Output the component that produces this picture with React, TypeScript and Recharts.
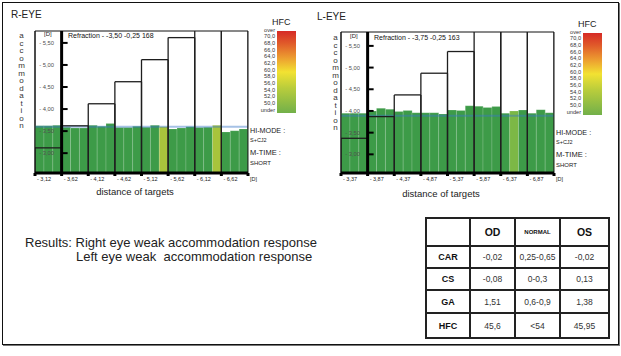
import React from 'react';
import { ComposedChart, Bar, Cell, XAxis, YAxis, ReferenceArea, ReferenceLine } from 'recharts';

// target distances [D], one per column
const rTargets = [-3.12, -3.62, -4.12, -4.62, -5.12, -5.62, -6.12, -6.62];
const lTargets = [-3.37, -3.87, -4.37, -4.87, -5.37, -5.87, -6.37, -6.87];

// measured accommodation, three readings per target
const rAccommodation = [
  -3.62, -3.62, -3.63,
  -3.59, -3.57, -3.57,
  -3.63, -3.61, -3.67,
  -3.58, -3.58, -3.61,
  -3.59, -3.63, -3.6,
  -3.55, -3.57, -3.6,
  -3.58, -3.59, -3.63,
  -3.48, -3.51, -3.55,
];
const lAccommodation = [
  -3.95, -3.95, -3.95,
  -4.0, -4.06, -4.04,
  -3.99, -4.01, -3.96,
  -3.96, -3.96, -3.93,
  -4.02, -4.01, -4.12,
  -4.11, -4.08, -4.1,
  -3.95, -4.0, -4.02,
  -3.95, -4.03, -3.96,
];

// HFC per reading (colours the bars)
const rHfc = [46, 46, 46, 46, 46, 46, 47, 46, 47, 46, 46, 46, 46, 47, 56, 46, 46, 46, 46, 47, 56, 46, 46, 46];
const lHfc = [46, 46, 46, 46, 46, 46, 46, 46, 46, 46, 46, 46, 46, 46, 46, 46, 46, 46, 46, 53, 46, 46, 46, 46];

const rBaseline = -3.6;
const lBaseline = -3.89;

const yTicks = [-5.5, -5.0, -4.5, -4.0, -3.5, -3.0];
const colTicks = [0, 1, 2, 3, 4, 5, 6, 7, 8];
const hfcLabels = ['over', '70,0', '68,0', '66,0', '64,0', '62,0', '60,0', '58,0', '56,0', '54,0', '52,0', '50,0', 'under'];

const tableHead = ['', 'OD', 'NORMAL', 'OS'];
const tableRows = ['CAR', 'CS', 'GA', 'HFC'];
const odValues = ['-0,02', '-0,08', '1,51', '45,6'];
const normalValues = ['0,25-0,65', '0-0,3', '0,6-0,9', '<54'];
const osValues = ['-0,02', '0,13', '1,38', '45,95'];

const FONT = '"Liberation Sans", Arial, sans-serif';
const PLOT_W = 213;
const COL_W = PLOT_W / 8;
const READINGS = 3;

const fmt = (v: number) => '- ' + Math.abs(v).toFixed(2).replace('.', ',');

const hfcColor = (h: number) => (h >= 54 ? '#a8c43c' : h >= 51 ? '#7cb846' : '#3d9b48');

interface PanelProps {
  dx: number;
  dy: number;
  plotTop: number;
  eye: string;
  targets: number[];
  acc: number[];
  hfc: number[];
  baseline: number;
  refraction: string;
  domain: [number, number];
  lettersX: number;
}

function Panel({ dx, dy, plotTop, eye, targets, acc, hfc, baseline, refraction, domain, lettersX }: PanelProps) {
  // col = position of the reading in column units (column c covers c..c+1)
  const data = acc.map((v, i) => ({
    k: i,
    col: Math.floor(i / READINGS) + ((i % READINGS) + 0.5) / READINGS,
    acc: v,
    hfc: hfc[i],
  }));
  const [yTop, yBottom] = domain;

  // outline of each target box: left, right and top edge
  const boxEdges = targets.flatMap((t, c) => [
    [{ x: c, y: yBottom }, { x: c, y: t }],
    [{ x: c + 1, y: yBottom }, { x: c + 1, y: t }],
    [{ x: c, y: t }, { x: c + 1, y: t }],
  ]);

  const yTick = (p: any) => (
    <g>
      <text x={p.x + 19} y={p.y + 2} fontSize={5.8} fill="#505050" textAnchor="end" fontFamily={FONT}>
        {fmt(p.payload.value)}
      </text>
      <line x1={p.x + COL_W} x2={p.x + COL_W + 6} y1={p.y} y2={p.y} stroke="#000" strokeWidth={2} />
    </g>
  );

  const xTick = (p: any) => {
    const i = p.payload.value;
    const label = i < targets.length ? fmt(targets[i]) : '[D]';
    return (
      <text x={p.x + 2} y={p.y + 3} fontSize={5.5} fill="#222" fontFamily={FONT}>
        {label}
      </text>
    );
  };

  const abs = (l: number, t: number, extra: React.CSSProperties = {}): React.CSSProperties => ({
    position: 'absolute',
    left: dx + l,
    top: t + dy,
    whiteSpace: 'nowrap',
    lineHeight: 1,
    ...extra,
  });

  return (
    <>
      <div style={{ position: 'absolute', left: dx, top: 0 }}>
        <ComposedChart
          width={260}
          height={190}
          data={data}
          margin={{ top: plotTop, right: 12, bottom: 5, left: 34 }}
          barCategoryGap={0}
          barGap={0}
        >
          <XAxis xAxisId="sub" dataKey="k" type="category" hide />
          <XAxis
            xAxisId="col"
            dataKey="col"
            type="number"
            domain={[0, 8]}
            ticks={colTicks}
            interval={0}
            allowDataOverflow
            height={12}
            axisLine={{ stroke: '#000', strokeWidth: 3 }}
            tickLine={{ stroke: '#000', strokeWidth: 3 }}
            tickSize={3}
            tick={xTick}
          />
          <YAxis
            type="number"
            domain={[yTop, yBottom]}
            reversed
            allowDataOverflow
            ticks={yTicks}
            interval={0}
            width={1}
            axisLine={false}
            tickLine={false}
            tickSize={0}
            tickMargin={0}
            tick={yTick}
          />
          <ReferenceArea xAxisId="col" x1={0} x2={8} y1={yBottom} y2={yTop} fill="none" fillOpacity={0} stroke="#111" strokeWidth={1} />
          <Bar xAxisId="sub" dataKey="acc" isAnimationActive={false} stroke="rgba(255,255,255,0.22)" strokeWidth={0.8}>
            {data.map((d) => (
              <Cell key={d.k} fill={hfcColor(d.hfc)} />
            ))}
          </Bar>
          <ReferenceLine xAxisId="col" y={baseline} stroke="#3a78c8" strokeOpacity={0.45} strokeWidth={2} />
          {boxEdges.map((seg, i) => (
            <ReferenceLine key={i} xAxisId="col" segment={seg} stroke="#1e1e1e" strokeWidth={1.3} ifOverflow="hidden" />
          ))}
          <ReferenceLine xAxisId="col" segment={[{ x: 0, y: yBottom }, { x: 0, y: yTop }]} stroke="#111" strokeWidth={1} />
          <ReferenceLine xAxisId="col" x={1} stroke="#000" strokeWidth={3} />
        </ComposedChart>
      </div>

      <div style={abs(11, 10, { fontSize: 10, color: '#222' })}>{eye}</div>
      <div
        style={abs(lettersX - 5, 31, {
          writingMode: 'vertical-lr',
          textOrientation: 'upright',
          fontSize: 8,
          letterSpacing: -1.5,
          lineHeight: '10px',
          width: 10,
          color: '#333',
        })}
      >
        accommodation
      </div>
      <div style={abs(44, 31, { fontSize: 6, color: '#222' })}>[D]</div>
      <div style={abs(68, 32, { fontSize: 7, color: '#111' })}>{refraction}</div>

      <div style={abs(272, 18, { fontSize: 9, color: '#222' })}>HFC</div>
      <div
        style={abs(277, 31, {
          width: 19,
          height: 82,
          background: 'linear-gradient(to bottom, #d62a26 0%, #e05a2a 15%, #ec9a30 32%, #f2e232 50%, #b8cc3c 70%, #72b04a 100%)',
        })}
      />
      {hfcLabels.map((l, i) => (
        <div key={l} style={abs(250, 26.5 + i * 6.67, { width: 25, textAlign: 'right', fontSize: 5.6, lineHeight: '6px', color: '#333' })}>
          {l}
        </div>
      ))}

      <div style={abs(250, 127, { fontSize: 7.2, color: '#222' })}>HI-MODE :</div>
      <div style={abs(250, 138, { fontSize: 5.5, color: '#222' })}>S+CJ2</div>
      <div style={abs(250, 149, { fontSize: 7.5, color: '#222' })}>M-TIME :</div>
      <div style={abs(250, 160, { fontSize: 6, color: '#222' })}>SHORT</div>

      <div style={abs(86, 187, { fontSize: 9.5, color: '#222', width: 98, textAlign: 'center' })}>distance of targets</div>
    </>
  );
}

export default function App() {
  const cell: React.CSSProperties = {
    border: '2px solid #222',
    textAlign: 'center',
    padding: 0,
    fontSize: 8.5,
    color: '#333',
  };
  const head: React.CSSProperties = { ...cell, fontWeight: 'bold', color: '#111', fontSize: 10.5 };
  const rowHeights = [22, 22, 23, 25];

  return (
    <div style={{ position: 'absolute', left: 0, top: 0, width: 621, height: 356, background: '#fff', fontFamily: FONT }}>
      <div
        style={{
          position: 'absolute',
          left: 2,
          top: 2,
          width: 615,
          height: 341,
          border: '1px solid #111',
          boxShadow: '1px 1px 0 #777',
        }}
      />

      <Panel
        dx={0}
        dy={0}
        plotTop={31}
        eye="R-EYE"
        targets={rTargets}
        acc={rAccommodation}
        hfc={rHfc}
        baseline={rBaseline}
        refraction="Refraction - -3,50 -0,25 168"
        domain={[-5.77, -2.55]}
        lettersX={21}
      />
      <Panel
        dx={306}
        dy={2}
        plotTop={32}
        eye="L-EYE"
        targets={lTargets}
        acc={lAccommodation}
        hfc={lHfc}
        baseline={lBaseline}
        refraction="Refraction - -3,75 -0,25 163"
        domain={[-5.82, -2.57]}
        lettersX={29}
      />

      <div style={{ position: 'absolute', left: 25, top: 236, fontSize: 13, lineHeight: '14px', color: '#222', whiteSpace: 'nowrap' }}>
        Results: Right eye weak accommodation response
      </div>
      <div style={{ position: 'absolute', left: 76, top: 250, fontSize: 13, lineHeight: '14px', color: '#222', whiteSpace: 'pre' }}>
        {'Left eye weak  accommodation response'}
      </div>

      <table
        style={{
          position: 'absolute',
          left: 425,
          top: 217,
          width: 183,
          height: 120,
          borderCollapse: 'collapse',
          tableLayout: 'fixed',
          fontFamily: FONT,
        }}
      >
        <colgroup>
          <col style={{ width: 44 }} />
          <col style={{ width: 45 }} />
          <col style={{ width: 45 }} />
          <col style={{ width: 49 }} />
        </colgroup>
        <tbody>
          <tr style={{ height: 28 }}>
            {tableHead.map((h) => (
              <td key={h} style={h === 'NORMAL' ? { ...head, fontSize: 6 } : head}>
                {h}
              </td>
            ))}
          </tr>
          {tableRows.map((r, i) => (
            <tr key={r} style={{ height: rowHeights[i] }}>
              <td style={{ ...head, fontSize: 9 }}>{r}</td>
              <td style={cell}>{odValues[i]}</td>
              <td style={cell}>{normalValues[i]}</td>
              <td style={cell}>{osValues[i]}</td>
            </tr>
          ))}
        </tbody>
      </table>
    </div>
  );
}
